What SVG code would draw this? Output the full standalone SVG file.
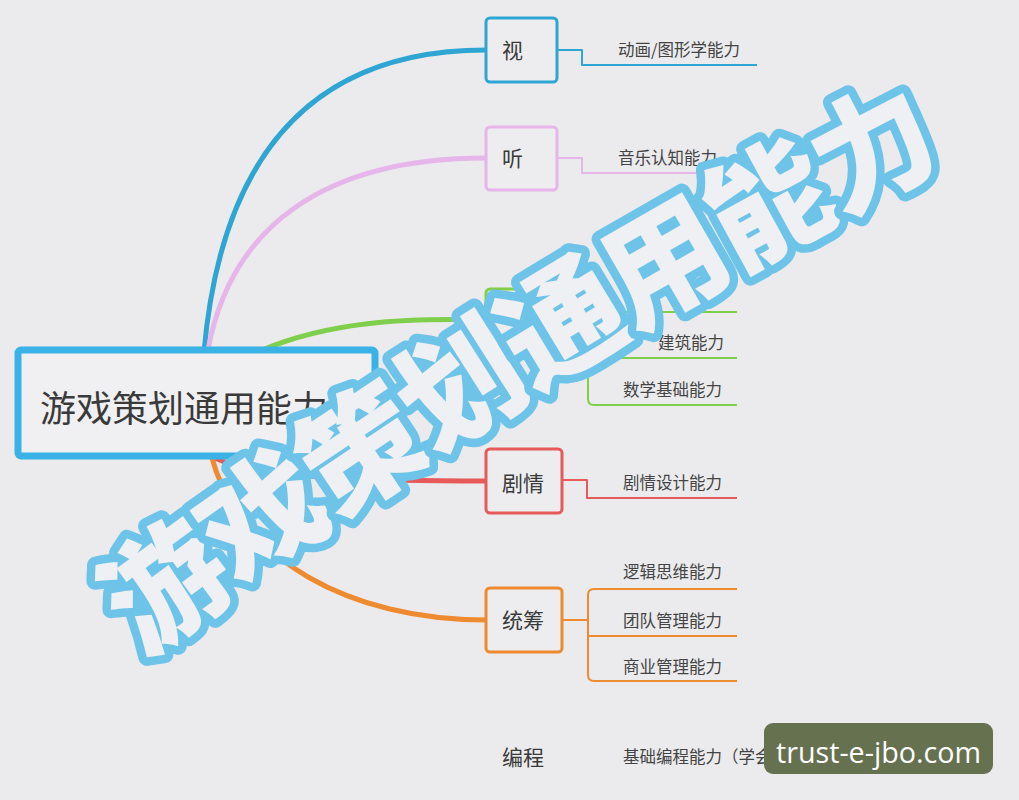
<svg xmlns="http://www.w3.org/2000/svg" width="1019" height="800" viewBox="0 0 1019 800">
  <defs>
    <style>
      .bg { fill: #ebebed; }
      .cjk { font-family: "Noto Sans CJK SC", "Noto Sans", sans-serif; fill: #3a3a3a; }
      .lbl { font-size: 21px; }
      .sub { font-size: 16.5px; fill: #444; }
      .box { fill: #ededef; stroke-width: 3; }
      .curve { fill: none; stroke-width: 5; stroke-linecap: round; }
      .line { fill: none; stroke-width: 2; stroke-linejoin: round; }
      .wm { font-family: "Noto Sans CJK SC", sans-serif; font-weight: 900; font-size: 122px; fill: #eef0f3; stroke: #6dc3e8; stroke-width: 17; stroke-linejoin: round; paint-order: stroke; letter-spacing: -3px; }
    </style>
    <path id="wmPath" d="M68.2,655.9 L165,585 Q500.6,339.3 870,148 L976.6,92.8"/>
  </defs>
  <rect class="bg" x="0" y="0" width="1019" height="800"/>

  <g id="connectors">
    <path class="curve" stroke="#2fa5d3" d="M204,352 C220,170 300,50 486,50"/>
    <path class="curve" stroke="#e6b6ea" d="M208,350 C230,230 320,158 486,158"/>
    <path class="curve" stroke="#7fcf4c" d="M262,350 C330,322 400,318 486,320"/>
    <path class="curve" stroke="#e65a5a" d="M215,458 C260,480 400,481 486,481"/>
    <path class="curve" stroke="#ee8a2f" d="M212,458 C240,560 350,620 486,620"/>

    <path class="line" stroke="#2fa5d3" stroke-width="2.5" d="M557,50 H582 V65 H757"/>
    <path class="line" stroke="#e6b6ea" d="M557,158 H582 V173 H737"/>
    <path class="line" stroke="#7fcf4c" d="M557,320 H588"/>
    <path class="line" stroke="#7fcf4c" d="M737,312 H594 Q588,312 588,318 V399 Q588,405 594,405 H737"/>
    <path class="line" stroke="#7fcf4c" d="M588,358 H737"/>
    <path class="line" stroke="#e65a5a" d="M562,480 H587 V498 H737"/>
    <path class="line" stroke="#ee8a2f" d="M562,620 H588"/>
    <path class="line" stroke="#ee8a2f" d="M737,589 H594 Q588,589 588,595 V675 Q588,681 594,681 H737"/>
    <path class="line" stroke="#ee8a2f" d="M588,636 H737"/>
  </g>

  <g id="root">
    <rect x="18" y="350" width="357" height="106" rx="3" fill="#f0f0f2" stroke="#3bb2e5" stroke-width="7"/>
    <text class="cjk" x="40" y="422" font-size="36" fill="#333">游戏策划通用能力</text>
  </g>

  <g id="node-shi">
    <rect class="box" x="486" y="18" width="71" height="64" rx="4" stroke="#2fa5d3"/>
    <text class="cjk lbl" x="502" y="58">视</text>
  </g>
  <g id="node-shi-1">
    <text class="cjk sub" x="618" y="56">动画/图形学能力</text>
  </g>

  <g id="node-ting">
    <rect class="box" x="486" y="127" width="71" height="63" rx="4" stroke="#e6b6ea"/>
    <text class="cjk lbl" x="502" y="166">听</text>
  </g>
  <g id="node-ting-1">
    <text class="cjk sub" x="618" y="164">音乐认知能力</text>
  </g>

  <g id="node-green">
    <rect class="box" x="486" y="289" width="71" height="63" rx="4" stroke="#7fcf4c"/>
  </g>
  <g id="node-green-2">
    <text class="cjk sub" x="658" y="349">建筑能力</text>
  </g>
  <g id="node-green-3">
    <text class="cjk sub" x="623" y="396">数学基础能力</text>
  </g>

  <g id="node-juqing">
    <rect class="box" x="486" y="449" width="76" height="64" rx="4" stroke="#e65a5a"/>
    <text class="cjk lbl" x="502" y="491">剧情</text>
  </g>
  <g id="node-juqing-1">
    <text class="cjk sub" x="623" y="489">剧情设计能力</text>
  </g>

  <g id="node-tongchou">
    <rect class="box" x="486" y="588" width="76" height="64" rx="4" stroke="#ee8a2f"/>
    <text class="cjk lbl" x="502" y="628">统筹</text>
  </g>
  <g id="node-tongchou-1">
    <text class="cjk sub" x="623" y="578">逻辑思维能力</text>
  </g>
  <g id="node-tongchou-2">
    <text class="cjk sub" x="623" y="627">团队管理能力</text>
  </g>
  <g id="node-tongchou-3">
    <text class="cjk sub" x="623" y="673">商业管理能力</text>
  </g>

  <g id="node-biancheng">
    <text class="cjk lbl" x="502" y="765">编程</text>
  </g>
  <g id="node-biancheng-1">
    <text class="cjk sub" x="623" y="763">基础编程能力（学会</text>
  </g>

  <g id="watermark">
    <text class="wm" dy="46"><textPath href="#wmPath" startOffset="50%" text-anchor="middle">游戏策划通用能力</textPath></text>
  </g>

  <g id="badge">
    <rect x="764" y="723" width="229" height="51" rx="9" fill="#667150"/>
    <text x="776" y="763" font-family="'Open Sans', 'Noto Sans', sans-serif" font-size="29" fill="#ffffff" textLength="205" lengthAdjust="spacingAndGlyphs">trust-e-jbo.com</text>
  </g>
</svg>
